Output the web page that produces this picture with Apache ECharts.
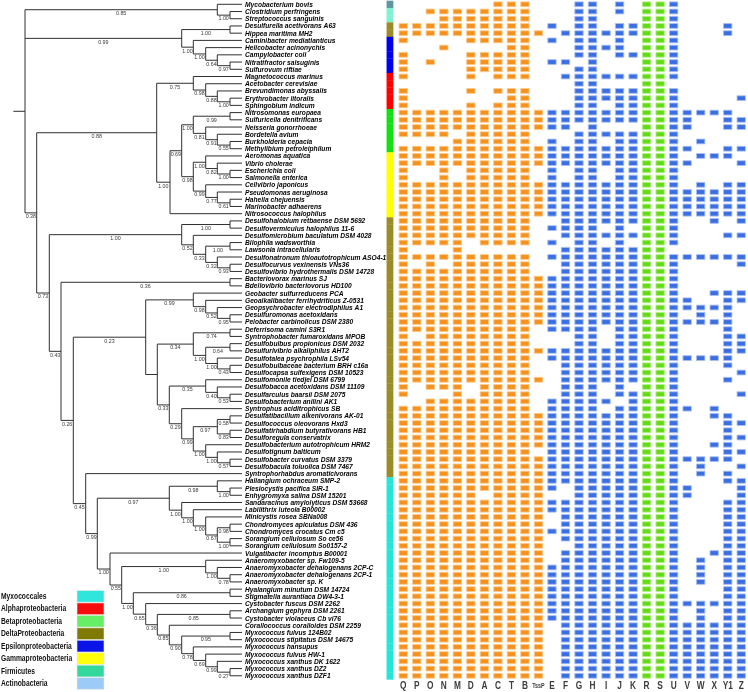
<!DOCTYPE html>
<html><head><meta charset="utf-8">
<script src="https://cdn.jsdelivr.net/npm/echarts@6/dist/echarts.min.js"></script>
<style>html,body{margin:0;padding:0;background:#fff}#c{width:748px;height:692px}</style>
</head><body><div id="c"></div>
<script>
// ---------------- DATA ----------------
const species = ["Mycobacterium bovis","Clostridium perfringens","Streptococcus sanguinis","Desulfurella acetivorans A63","Hippea maritima MH2","Caminibacter mediatlanticus","Helicobacter acinonychis","Campylobacter coli","Nitratifractor salsuginis","Sulfurovum riftiae","Magnetococcus marinus","Acetobacter cerevisiae","Brevundimonas abyssalis","Erythrobacter litoralis","Sphingobium indicum","Nitrosomonas europaea","Sulfuricella denitrificans","Neisseria gonorrhoeae","Bordetella avium","Burkholderia cepacia","Methylibium petroleiphilum","Aeromonas aquatica","Vibrio cholerae","Escherichia coli","Salmonella enterica","Cellvibrio japonicus","Pseudomonas aeruginosa","Hahella chejuensis","Marinobacter adhaerens","Nitrosococcus halophilus","Desulfohalobium retbaense DSM 5692","Desulfovermiculus halophilus 11-6","Desulfomicrobium baculatum DSM 4028","Bilophila wadsworthia","Lawsonia intracellularis","Desulfonatronum thioautotrophicum ASO4-1","Desulfocurvus vexinensis VNs36","Desulfovibrio hydrothermalis DSM 14728","Bacteriovorax marinus SJ","Bdellovibrio bacteriovorus HD100","Geobacter sulfurreducens PCA","Geoalkalibacter ferrihydriticus Z-0531","Geopsychrobacter electrodiphilus A1","Desulfuromonas acetoxidans","Pelobacter carbinolicus DSM 2380","Deferrisoma camini S3R1","Syntrophobacter fumaroxidans MPOB","Desulfobulbus propionicus DSM 2032","Desulfurivibrio alkaliphilus AHT2","Desulfotalea psychrophila LSv54","Desulfobulbaceae bacterium BRH c16a","Desulfocapsa sulfexigens DSM 10523","Desulfomonile tiedjei DSM 6799","Desulfobacca acetoxidans DSM 11109","Desulfarculus baarsii DSM 2075","Desulfobacterium anilini AK1","Syntrophus aciditrophicus SB","Desulfatibacillum alkenivorans AK-01","Desulfococcus oleovorans Hxd3","Desulfatirhabdium butyrativorans HB1","Desulforegula conservatrix","Desulfobacterium autotrophicum HRM2","Desulfotignum balticum","Desulfobacter curvatus DSM 3379","Desulfobacula toluolica DSM 7467","Syntrophorhabdus aromaticivorans","Haliangium ochraceum SMP-2","Plesiocystis pacifica SIR-1","Enhygromyxa salina DSM 15201","Sandaracinus amylolyticus DSM 53668","Labilithrix luteola B00002","Minicystis rosea SBNa008","Chondromyces apiculatus DSM 436","Chondromyces crocatus Cm c5","Sorangium cellulosum So ce56","Sorangium cellulosum So0157-2","Vulgatibacter incomptus B00001","Anaeromyxobacter sp. Fw109-5","Anaeromyxobacter dehalogenans 2CP-C","Anaeromyxobacter dehalogenans 2CP-1","Anaeromyxobacter sp. K","Hyalangium minutum DSM 14724","Stigmatella aurantiaca DW4-3-1","Cystobacter fuscus DSM 2262","Archangium gephyra DSM 2261","Cystobacter violaceus Cb vi76","Corallococcus coralloides DSM 2259","Myxococcus fulvus 124B02","Myxococcus stipitatus DSM 14675","Myxococcus hansupus","Myxococcus fulvus HW-1","Myxococcus xanthus DK 1622","Myxococcus xanthus DZ2","Myxococcus xanthus DZF1"];

// Tree pieces: leaves are indices into species; internal nodes "(...)support:depth" (depth = distance from root)
const TIP_DEPTH = 2.287;
const cladeTop = "(0,(1,2)1.00:2.167)0.85:2.04";
const cladeEpsilon = "((3,4)1.00:2.167,(5,(6,(7,(8,9)0.97:2.167)0.64:2.04)1.00:1.924)1.00:1.80)0.99:1.684";
const cladeAlpha = "(10,(11,(12,(13,14)1.00:2.167)0.88:2.04)0.98:1.924)0.75:1.80";
const cladeBeta = "((15,16)0.99:2.167,(17,(18,(19,20)0.55:2.167)0.91:2.04)0.81:1.924)1.00:1.80";
const cladeGamma = "((21,(22,(23,24)1.00:2.167)0.82:2.04)1.00:1.924,(25,(26,(27,28)0.61:2.167)0.77:2.04)0.99:1.924)0.98:1.80";
const cladeDsv = "((30,31)1.00:2.167,(32,((33,34)1.00:2.167,(35,(36,37)0.93:2.167)0.32:2.04)0.33:1.924)0.52:1.80)1.00:1.684";
const cladeDsm = "(40,(41,(42,(43,44)0.95:2.167)0.52:2.04)0.98:1.924)0.99:1.80";
const cladeS34 = "((45,46)0.74:2.167,((47,48)0.64:2.167,(49,(50,51)0.43:2.167)1.00:2.04)1.00:1.924)0.34:1.80";
const cladeS35 = "(52,(53,(54,55)0.53:2.167)0.40:2.04)0.35:1.924";
const cladeS99 = "(((57,58)0.58:2.167,(59,60)0.83:2.167)0.97:2.04,(61,(62,(63,64)0.57:2.167)1.00:2.04)1.00:1.924)0.99:1.80";
const cladeSor = "((66,(67,68)1.00:2.167)0.98:2.04,(69,(70,(71,((72,73)0.98:2.167,(74,75)1.00:2.167)0.67:2.04)1.00:1.924)1.00:1.80)1.00:1.684)0.97:1.56";
const cladeMyx = "((87,88)0.95:2.167,(89,(90,(91,(92,93)0.27:2.167)0.99:2.04)0.69:1.924)0.78:1.80)0.90:1.684";

const columns = ['Q','P','O','N','M','D','A','C','T','B','TssP','E','F','G','H','I','J','K','R','S','U','V','W','X','Y1','Z'];
// 26 flags per species: Q..B,TssP | E..K | R S | U | V W X Y1 Z
const presence = [
"00000001110"+"0011010"+"11"+"1"+"00000",
"00111111110"+"0011010"+"11"+"1"+"00000",
"00011111110"+"0011000"+"11"+"1"+"00000",
"11111111110"+"1011011"+"11"+"1"+"00010",
"11111111111"+"0111111"+"11"+"1"+"00010",
"10000111110"+"1011010"+"11"+"1"+"00000",
"00010000110"+"0011110"+"11"+"1"+"00000",
"10000111110"+"0011011"+"11"+"1"+"00000",
"10100111110"+"1101000"+"11"+"1"+"00000",
"10000111110"+"0011000"+"11"+"1"+"00000",
"10000101110"+"0111111"+"11"+"1"+"00000",
"00000000000"+"0011000"+"11"+"0"+"00000",
"10000101110"+"0011111"+"11"+"1"+"00000",
"10000000110"+"0011111"+"11"+"1"+"00001",
"10000101110"+"0011011"+"11"+"1"+"00000",
"11111111111"+"1111111"+"11"+"1"+"11110",
"11111111111"+"1111111"+"11"+"1"+"10011",
"11111111111"+"1101000"+"11"+"1"+"10011",
"11110111110"+"0011111"+"11"+"1"+"00000",
"00001111110"+"1011011"+"11"+"1"+"01000",
"11111111111"+"1111111"+"11"+"1"+"10011",
"11111111111"+"1111111"+"11"+"1"+"01110",
"11111111111"+"1111111"+"11"+"1"+"10001",
"10010111110"+"1011011"+"11"+"1"+"00000",
"10010111110"+"1011011"+"11"+"1"+"00000",
"11111111111"+"1111111"+"11"+"1"+"01011",
"11111111111"+"1111111"+"11"+"1"+"11111",
"11111111111"+"1111111"+"11"+"1"+"11111",
"11111111111"+"1111111"+"11"+"1"+"11111",
"11111111111"+"1111111"+"11"+"1"+"11111",
"11111111110"+"0111111"+"11"+"1"+"00101",
"11111111110"+"1111010"+"11"+"1"+"00000",
"11111111110"+"0111111"+"11"+"1"+"00011",
"11111011110"+"1011010"+"11"+"1"+"00000",
"10001000000"+"0111111"+"11"+"0"+"00000",
"11111111110"+"1111111"+"11"+"1"+"11111",
"10101111110"+"0111111"+"11"+"1"+"00001",
"11111111110"+"0111111"+"11"+"1"+"00000",
"11111111111"+"1111111"+"11"+"1"+"00000",
"11111111111"+"1111111"+"11"+"1"+"00000",
"11111111111"+"1111111"+"11"+"1"+"00111",
"11111111111"+"1111111"+"11"+"1"+"10011",
"11111111111"+"1111111"+"11"+"1"+"11110",
"11111111111"+"1111111"+"11"+"1"+"01010",
"11111111111"+"1111111"+"11"+"1"+"11110",
"11111111110"+"1111011"+"11"+"1"+"00010",
"10111111110"+"0011011"+"11"+"1"+"00011",
"11111111110"+"0011011"+"11"+"1"+"00011",
"11111111111"+"1111111"+"11"+"1"+"00011",
"11111111110"+"1111111"+"11"+"1"+"11110",
"11111111110"+"0111111"+"11"+"1"+"00010",
"11111111110"+"0111111"+"11"+"1"+"00001",
"11111111111"+"0111111"+"11"+"1"+"00010",
"10111011110"+"0111010"+"11"+"1"+"00000",
"10001011110"+"0111011"+"11"+"1"+"00001",
"00111111110"+"1111101"+"11"+"1"+"00000",
"11111111110"+"1111011"+"11"+"1"+"10100",
"11111111111"+"1111111"+"11"+"1"+"00110",
"11111111111"+"1111111"+"11"+"1"+"00011",
"11111111111"+"1111111"+"11"+"1"+"00010",
"11111111111"+"1111111"+"11"+"1"+"00011",
"11111111111"+"1111111"+"11"+"1"+"00110",
"11111111110"+"1111111"+"11"+"1"+"00011",
"11111111111"+"1111111"+"11"+"1"+"11110",
"11111111111"+"1111111"+"11"+"1"+"01001",
"11111111111"+"1111111"+"11"+"1"+"01010",
"11111111111"+"1111111"+"11"+"1"+"00011",
"11111111111"+"1011111"+"11"+"1"+"10001",
"11111101111"+"0011111"+"11"+"1"+"10001",
"11111111111"+"1111111"+"11"+"1"+"00011",
"11111111111"+"1111111"+"11"+"1"+"00011",
"11111111111"+"0111111"+"11"+"1"+"00011",
"11111111111"+"0111111"+"11"+"1"+"00011",
"11111111111"+"1111111"+"11"+"1"+"00011",
"11111111111"+"0111111"+"11"+"1"+"00011",
"11111111111"+"0011111"+"11"+"1"+"00011",
"11111111111"+"0111111"+"11"+"1"+"00111",
"11111111111"+"0111111"+"11"+"1"+"01011",
"11111111111"+"1111111"+"11"+"1"+"01011",
"11111111111"+"1111111"+"11"+"1"+"01011",
"11111111111"+"1111111"+"11"+"1"+"01011",
"11111111111"+"1111111"+"11"+"1"+"00011",
"11111111111"+"1111111"+"11"+"1"+"00011",
"11111111111"+"1111111"+"11"+"1"+"11111",
"11111111111"+"1111111"+"11"+"1"+"01011",
"11111111111"+"1111111"+"11"+"1"+"01011",
"11111111111"+"0111111"+"11"+"1"+"11111",
"11111111111"+"0111111"+"11"+"1"+"11111",
"11111111111"+"0111111"+"11"+"1"+"11111",
"11111111111"+"0111111"+"11"+"1"+"11111",
"11111111111"+"0111111"+"11"+"1"+"11111",
"11111111111"+"0111111"+"11"+"1"+"11111",
"11111111111"+"0111111"+"11"+"1"+"11111",
"11111111111"+"0111111"+"11"+"1"+"11111"
];

const cladeNames = ['Myxococcales','Alphaproteobacteria','Betaproteobacteria','DeltaProteobacteria','Epsilonproteobacteria','Gammaproteobacteria','Firmicutes','Actinobacteria'];
const cladeLegendColors = ['#30e6dc','#f50d0d','#66ee66','#7f7a05','#0a14e6','#ffff0a','#33d89c','#9dcbf7'];
const cladeStripColors = ['#22e6da','#ff0000','#12e012','#9a8c28','#0000f0','#ffff00','#80f2d2','#5f96a0'];
// runs of rows (top to bottom): [clade index, number of species]
const cladeRuns = [[7,1],[6,2],[3,2],[4,5],[1,5],[2,6],[5,9],[3,36],[0,28]];

// ---------------- BUILD ----------------
const treeNewick = "(" + cladeTop + "," + cladeEpsilon + ",((" + cladeAlpha + ",((" + cladeBeta + "," + cladeGamma +
  ")0.69:1.684,29)1.00:1.567)0.88:1.434,(" + cladeDsv + ",((38,39)0.36:2.167,((" + cladeDsm + ",(" + cladeS34 + ",(" + cladeS35 +
  ",(56," + cladeS99 + ")0.29:1.684)0.33:1.56):1.44)0.23:1.324,(65,(" + cladeSor + ",(76,((77,(78,(79,80)0.78:2.167)1.00:2.04)1.00:1.924,((81,82)0.86:2.167,(83,((84,85)0.85:2.167,(86," +
  cladeMyx + ")0.85:1.56)0.36:1.44)0.65:1.324)1.00:1.20)0.55:1.084)1.00:0.967)0.99:0.84)0.45:0.724)0.26:0.60)0.43:0.477)0.73:0.36)0.38:0.234):0.117;";

function parseTree(s){
  let i = 0;
  function node(){
    const n = {children: []};
    if (s[i] === '('){
      i++;
      n.children.push(node());
      while (s[i] === ','){ i++; n.children.push(node()); }
      i++;
    }
    let tok = '';
    while (i < s.length && !',():;'.includes(s[i])) tok += s[i++];
    let depth = null;
    if (s[i] === ':'){ i++; let d=''; while (i < s.length && !',();'.includes(s[i])) d += s[i++]; depth = parseFloat(d); }
    if (n.children.length){ n.support = tok; n.depth = depth; }
    else { n.leaf = parseInt(tok, 10); n.depth = TIP_DEPTH; }
    return n;
  }
  return node();
}
const root = parseTree(treeNewick);
const segs = [], supportLabels = [], supportTexts = [];
function layout(n){
  if (!n.children.length){ n.y = n.leaf; return; }
  n.children.forEach(layout);
  const y0 = n.children[0].y, y1 = n.children[n.children.length-1].y;
  n.y = (y0 + y1) / 2;
  segs.push([n.depth, y0, n.depth, y1]);
  n.children.forEach(c => {
    segs.push([n.depth, c.y, c.depth, c.y]);
    if (c.children.length && c.support){
      supportTexts.push(c.support);
      supportLabels.push([(n.depth + c.depth)/2, c.y, supportTexts.length-1]);
    }
  });
}
layout(root);
segs.push([0, root.y, root.depth, root.y]);

const rowClade = [];
cladeRuns.forEach(([c, k]) => { for (let j=0;j<k;j++) rowClade.push(c); });

const cellData = [];
presence.forEach((r, row) => { for (let c=0;c<r.length;c++) if (r[c]==='1') cellData.push([c+1, row, c]); });
const stripData = rowClade.map((c, row) => [0, row, c]);
const labelData = species.map((s, i) => [TIP_DEPTH, i, i]);
const colLabelData = columns.map((c, i) => [i+1, species.length-1, i]);

function colFill(c){
  if (c <= 10) return ['#f5911e', '#fbc98a'];
  if (c === 18 || c === 19) return ['#63dc16', '#b4f08a'];
  return ['#3b6ee0', '#a9c0f2'];
}

const SX = 0.83;
const chart = echarts.init(document.getElementById('c'));
const option = {
  animation: false,
  backgroundColor: '#fff',
  grid: [
    {left: 13.3, top: 0.69, width: 236.7, height: 678.7},
    {left: 383, top: 0.69, width: 365.6, height: 678.7}
  ],
  xAxis: [
    {gridIndex: 0, type: 'value', min: 0, max: 2.367, show: false},
    {gridIndex: 1, type: 'category', data: ['clade'].concat(columns), show: false}
  ],
  yAxis: [
    {gridIndex: 0, type: 'value', min: -0.5, max: 93.5, inverse: true, show: false},
    {gridIndex: 1, type: 'category', data: species, inverse: true, show: false}
  ],
  series: [
    { type: 'custom', xAxisIndex: 0, yAxisIndex: 0, data: segs, encode: {x: [0,2], y: [1,3]},
      renderItem: (p, api) => {
        const a = api.coord([api.value(0), api.value(1)]), b = api.coord([api.value(2), api.value(3)]);
        return {type: 'line', shape: {x1: a[0], y1: a[1], x2: b[0], y2: b[1]}, style: {stroke: '#303030', lineWidth: 1}};
      }},
    { type: 'custom', xAxisIndex: 0, yAxisIndex: 0, data: supportLabels, encode: {x: 0, y: 1},
      renderItem: (p, api) => {
        const a = api.coord([api.value(0), api.value(1)]);
        return {type: 'text', x: a[0], y: a[1] + 0.8, scaleX: 0.95,
          style: {text: supportTexts[api.value(2)], fill: '#3a3a3a', fontSize: 5.6, fontFamily: 'Liberation Sans', align: 'center', verticalAlign: 'top'}};
      }},
    { type: 'custom', xAxisIndex: 0, yAxisIndex: 0, data: labelData, encode: {x: 0, y: 1},
      renderItem: (p, api) => {
        const a = api.coord([api.value(0), api.value(1)]);
        return {type: 'text', x: a[0] + 3, y: a[1] + 0.3, scaleX: SX,
          style: {text: species[api.value(2)], fill: '#000', fontSize: 8, fontWeight: 'bold', fontStyle: 'italic', fontFamily: 'Liberation Sans', align: 'left', verticalAlign: 'middle'}};
      }},
    { type: 'custom', xAxisIndex: 1, yAxisIndex: 1, data: stripData, encode: {x: 0, y: 1},
      renderItem: (p, api) => {
        const a = api.coord([api.value(0), api.value(1)]), sz = api.size([1, 1]);
        return {type: 'rect', shape: {x: a[0] - 3.2, y: a[1] - sz[1]/2, width: 6.8, height: sz[1] + 0.3},
          style: {fill: cladeStripColors[api.value(2)]}};
      }},
    { type: 'custom', xAxisIndex: 1, yAxisIndex: 1, data: cellData, encode: {x: 0, y: 1},
      renderItem: (p, api) => {
        const a = api.coord([api.value(0), api.value(1)]);
        const f = colFill(api.value(2));
        return {type: 'rect', shape: {x: a[0] - 4.2, y: a[1] - 2.4, width: 8.4, height: 4.8},
          style: {fill: f[0], stroke: f[1], lineWidth: 0.9}};
      }},
    { type: 'custom', xAxisIndex: 1, yAxisIndex: 1, data: colLabelData, encode: {x: 0, y: 1},
      renderItem: (p, api) => {
        const a = api.coord([api.value(0), api.value(1)]);
        const t = columns[api.value(2)];
        const small = t.length > 2;
        return {type: 'text', x: a[0], y: a[1] + 10.5, scaleX: SX,
          style: {text: t, fill: '#3c3c3c', fontSize: small ? 6.5 : 10, fontWeight: 'bold', fontFamily: 'Liberation Sans', align: 'center', verticalAlign: 'middle'}};
      }}
  ],
  graphic: cladeNames.map((name, i) => ({
    type: 'group', children: [
      {type: 'rect', shape: {x: 77, y: 590.5 + i*12.45, width: 27, height: 11.7}, style: {fill: cladeLegendColors[i], stroke: '#e8e8e8', lineWidth: 0.6}},
      {type: 'text', x: 1, y: 596.5 + i*12.45, scaleX: 0.78,
        style: {text: name, fill: '#111', fontSize: 8.6, fontWeight: 'bold', fontFamily: 'Liberation Sans', align: 'left', verticalAlign: 'middle'}}
    ]
  }))
};
chart.setOption(option);
</script></body></html>
